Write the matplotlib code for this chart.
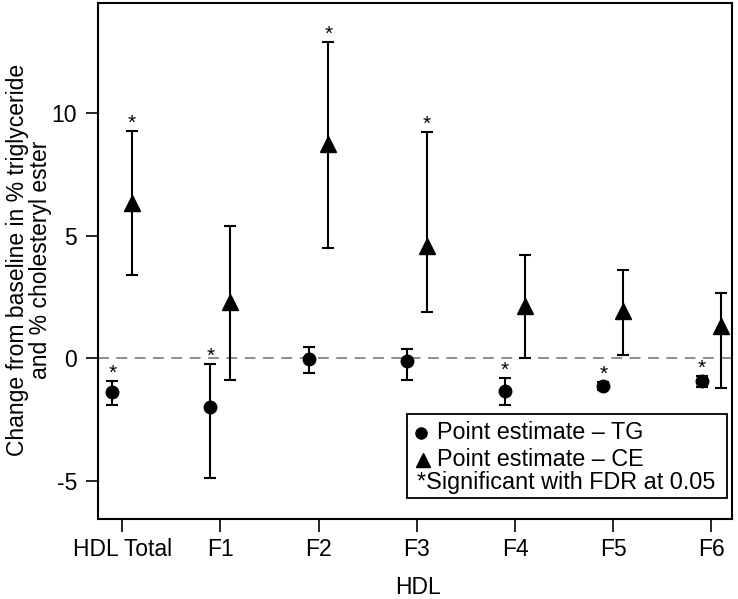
import matplotlib
matplotlib.use("Agg")
import matplotlib.pyplot as plt
from matplotlib.patches import Rectangle

plt.rcParams['font.family'] = ['Liberation Sans', 'DejaVu Sans']

categories = ["HDL Total", "F1", "F2", "F3", "F4", "F5", "F6"]
tg_est = [-1.39, -2.0, -0.04, -0.12, -1.31, -1.13, -0.94]
tg_low = [-1.88, -4.86, -0.61, -0.90, -1.88, -1.30, -1.18]
tg_high = [-0.94, -0.22, 0.45, 0.37, -0.78, -0.98, -0.73]
tg_sig = [True, True, False, False, True, True, True]

ce_est = [6.33, 2.29, 8.73, 4.58, 2.12, 1.92, 1.31]
ce_low = [3.39, -0.88, 4.52, 1.91, 0.0, 0.12, -1.22]
ce_high = [9.27, 5.39, 12.9, 9.24, 4.2, 3.59, 2.65]
ce_sig = [True, False, True, True, False, False, False]

y_ticks = [-5, 0, 5, 10]

fig = plt.figure(figsize=(7.38, 5.99), dpi=100)
ax = fig.add_axes([0.1328, 0.1336, 0.9919 - 0.1328, 0.995 - 0.1336])

xs = list(range(len(categories)))
off = 0.1

ax.axhline(0, color='#7a7a7a', lw=1.2, linestyle=(0, (6.5, 4.5)), zorder=1)

tg_x = [x - off for x in xs]
ce_x = [x + off for x in xs]
tg_err = [[e - l for e, l in zip(tg_est, tg_low)], [h - e for e, h in zip(tg_est, tg_high)]]
ce_err = [[e - l for e, l in zip(ce_est, ce_low)], [h - e for e, h in zip(ce_est, ce_high)]]

ax.errorbar(tg_x, tg_est, yerr=tg_err, fmt='o', color='black', ms=9,
            elinewidth=1.5, capsize=4.5, capthick=1.5, zorder=3)
ax.errorbar(ce_x, ce_est, yerr=ce_err, fmt='^', color='black', ms=12,
            elinewidth=1.5, capsize=4.5, capthick=1.5, zorder=3)

for x, h, s in zip(tg_x, tg_high, tg_sig):
    if s:
        ax.annotate('*', xy=(x, h), xytext=(0, 5.5), textcoords='offset points',
                    ha='center', va='center', fontsize=15)
for x, h, s in zip(ce_x, ce_high, ce_sig):
    if s:
        ax.annotate('*', xy=(x, h), xytext=(0, 5.5), textcoords='offset points',
                    ha='center', va='center', fontsize=15)

ax.set_xlim(-0.245, 6.21)
ax.set_ylim(-6.55, 14.5)
ax.set_xticks(xs)
ax.set_xticklabels(categories)
ax.set_yticks(y_ticks)
ax.set_yticklabels([str(t) for t in y_ticks])
ax.tick_params(axis='both', direction='out', length=9, width=1.2, labelsize=16.5, pad=6)
ax.tick_params(axis='x', pad=5)

for sp in ax.spines.values():
    sp.set_linewidth(1.5)

ax.set_ylabel("Change from baseline in % triglyceride\nand % cholesteryl ester", fontsize=16.5,
              linespacing=1.0)
ax.yaxis.set_label_coords(-0.0726, 0.502)
ax.set_xlabel("HDL", fontsize=16.5, va='baseline')
ax.xaxis.set_label_coords(0.505, (519 - 594) / 516)

# Legend box (drawn manually to match reference layout)
ax.add_patch(Rectangle((0.487, 0.0407), 0.992 - 0.487, 0.2035 - 0.0407, transform=ax.transAxes,
                       facecolor='white', edgecolor='black', lw=1.3, zorder=5, clip_on=False))
ax.plot([0.5095], [0.1667], 'o', color='black', ms=8, transform=ax.transAxes, zorder=6, clip_on=False)
ax.plot([0.5126], [0.1143], '^', color='black', ms=10, transform=ax.transAxes, zorder=6, clip_on=False)
ax.text(0.5347, 0.1667, "Point estimate \u2013 TG", transform=ax.transAxes, fontsize=16.8,
        va='center', ha='left', zorder=6)
ax.text(0.5347, 0.1143, "Point estimate \u2013 CE", transform=ax.transAxes, fontsize=16.8,
        va='center', ha='left', zorder=6)
ax.text(0.503, 0.0698, "*Significant with FDR at 0.05", transform=ax.transAxes, fontsize=16.8,
        va='center', ha='left', zorder=6)

fig.savefig("out.png", dpi=100)
